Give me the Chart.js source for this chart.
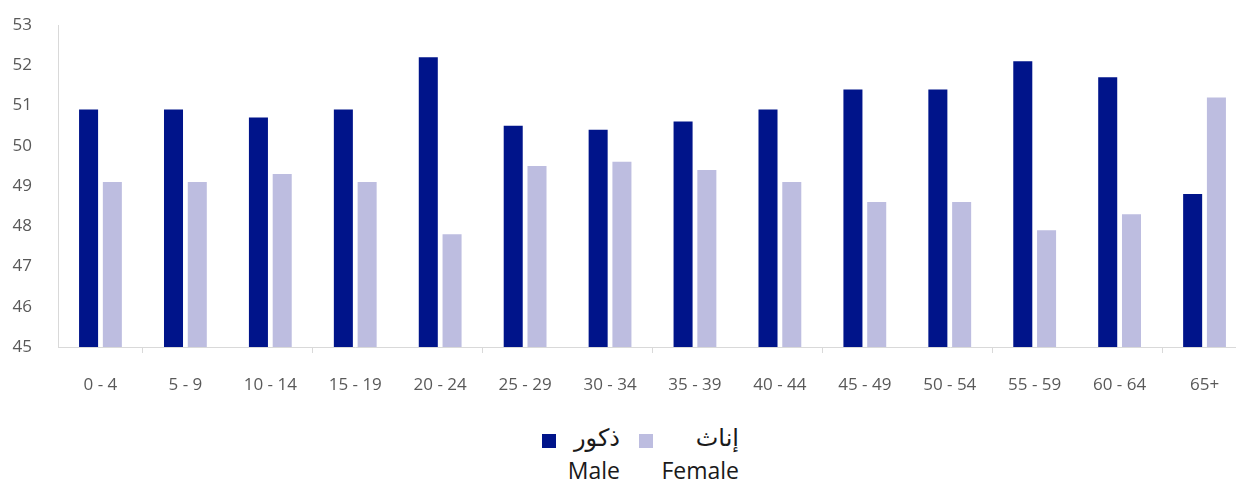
<!DOCTYPE html>
<html>
<head>
<meta charset="utf-8">
<script src="https://cdn.jsdelivr.net/npm/chart.js@4"></script>
<style>
  html, body { margin: 0; padding: 0; background: #fff; overflow: hidden; }
  body { width: 1236px; height: 483px; position: relative; }
  #wrap { position: absolute; left: 0; top: 0; width: 1250px; height: 410px; }
  .sw { position: absolute; width: 14px; height: 14px; }
  .lbl { position: absolute; color: #1a1a1a; text-align: right; white-space: nowrap; line-height: 1.2; }
  .ar { font-family: "DejaVu Sans", sans-serif; font-size: 24px; }
  .en { font-family: "Open Sans", sans-serif; font-size: 23px; }
</style>
</head>
<body>
<div id="wrap"><canvas id="chart"></canvas></div>
<div id="legend"></div>
<script>
const ageGroups = ["0 - 4", "5 - 9", "10 - 14", "15 - 19", "20 - 24", "25 - 29", "30 - 34",
  "35 - 39", "40 - 44", "45 - 49", "50 - 54", "55 - 59", "60 - 64", "65+"];
const maleValues = [50.9, 50.9, 50.7, 50.9, 52.2, 50.5, 50.4, 50.6, 50.9, 51.4, 51.4, 52.1, 51.7, 48.8];
const femaleValues = [49.1, 49.1, 49.3, 49.1, 47.8, 49.5, 49.6, 49.4, 49.1, 48.6, 48.6, 47.9, 48.3, 51.2];
const seriesAr = ["ذكور", "إناث"];
const seriesEn = ["Male", "Female"];
const colors = ["#00148a", "#bdbde0"];

// legend, drawn in html (two lines: arabic + english)
const legend = document.getElementById("legend");
const cols = [{ sq: 542, right: 620 }, { sq: 639, right: 739 }];
cols.forEach((c, i) => {
  legend.innerHTML += `
    <div class="sw" style="left:${c.sq}px;top:434px;background:${colors[i]}"></div>
    <div class="lbl ar" style="right:${1236 - c.right}px;top:424px">${seriesAr[i]}</div>
    <div class="lbl en" style="right:${1236 - c.right}px;top:457px">${seriesEn[i]}</div>`;
});

const ctx = document.getElementById("chart").getContext("2d");
new Chart(ctx, {
  type: "bar",
  data: {
    labels: ageGroups,
    datasets: [
      { label: seriesEn[0], data: maleValues, backgroundColor: colors[0] },
      { label: seriesEn[1], data: femaleValues, backgroundColor: colors[1] }
    ]
  },
  options: {
    responsive: true,
    maintainAspectRatio: false,
    animation: false,
    layout: { padding: { left: 0, right: 3, top: 25, bottom: 0 } },
    datasets: { bar: { categoryPercentage: 0.56, barPercentage: 0.8 } },
    plugins: { legend: { display: false }, tooltip: { enabled: false } },
    scales: {
      x: {
        afterFit: s => { s.height = 63; },
        border: { display: true, color: "#d9d9d9", width: 1 },
        grid: {
          offset: true,
          drawOnChartArea: false,
          drawTicks: true,
          tickLength: 6,
          color: c => (c.index % 2 === 1 ? "#d9d9d9" : "rgba(0,0,0,0)")
        },
        ticks: { color: "#595959", padding: 22, maxRotation: 0, font: { family: "Open Sans", size: 17 } }
      },
      y: {
        min: 45,
        max: 53,
        afterFit: s => { s.width = 58; s.paddingTop = 0; s.paddingBottom = 0; },
        border: { display: true, color: "#d9d9d9", width: 1 },
        grid: { display: false, drawTicks: false },
        ticks: { stepSize: 1, color: "#595959", padding: 26, font: { family: "Open Sans", size: 17 } }
      }
    }
  }
});
</script>
</body>
</html>
